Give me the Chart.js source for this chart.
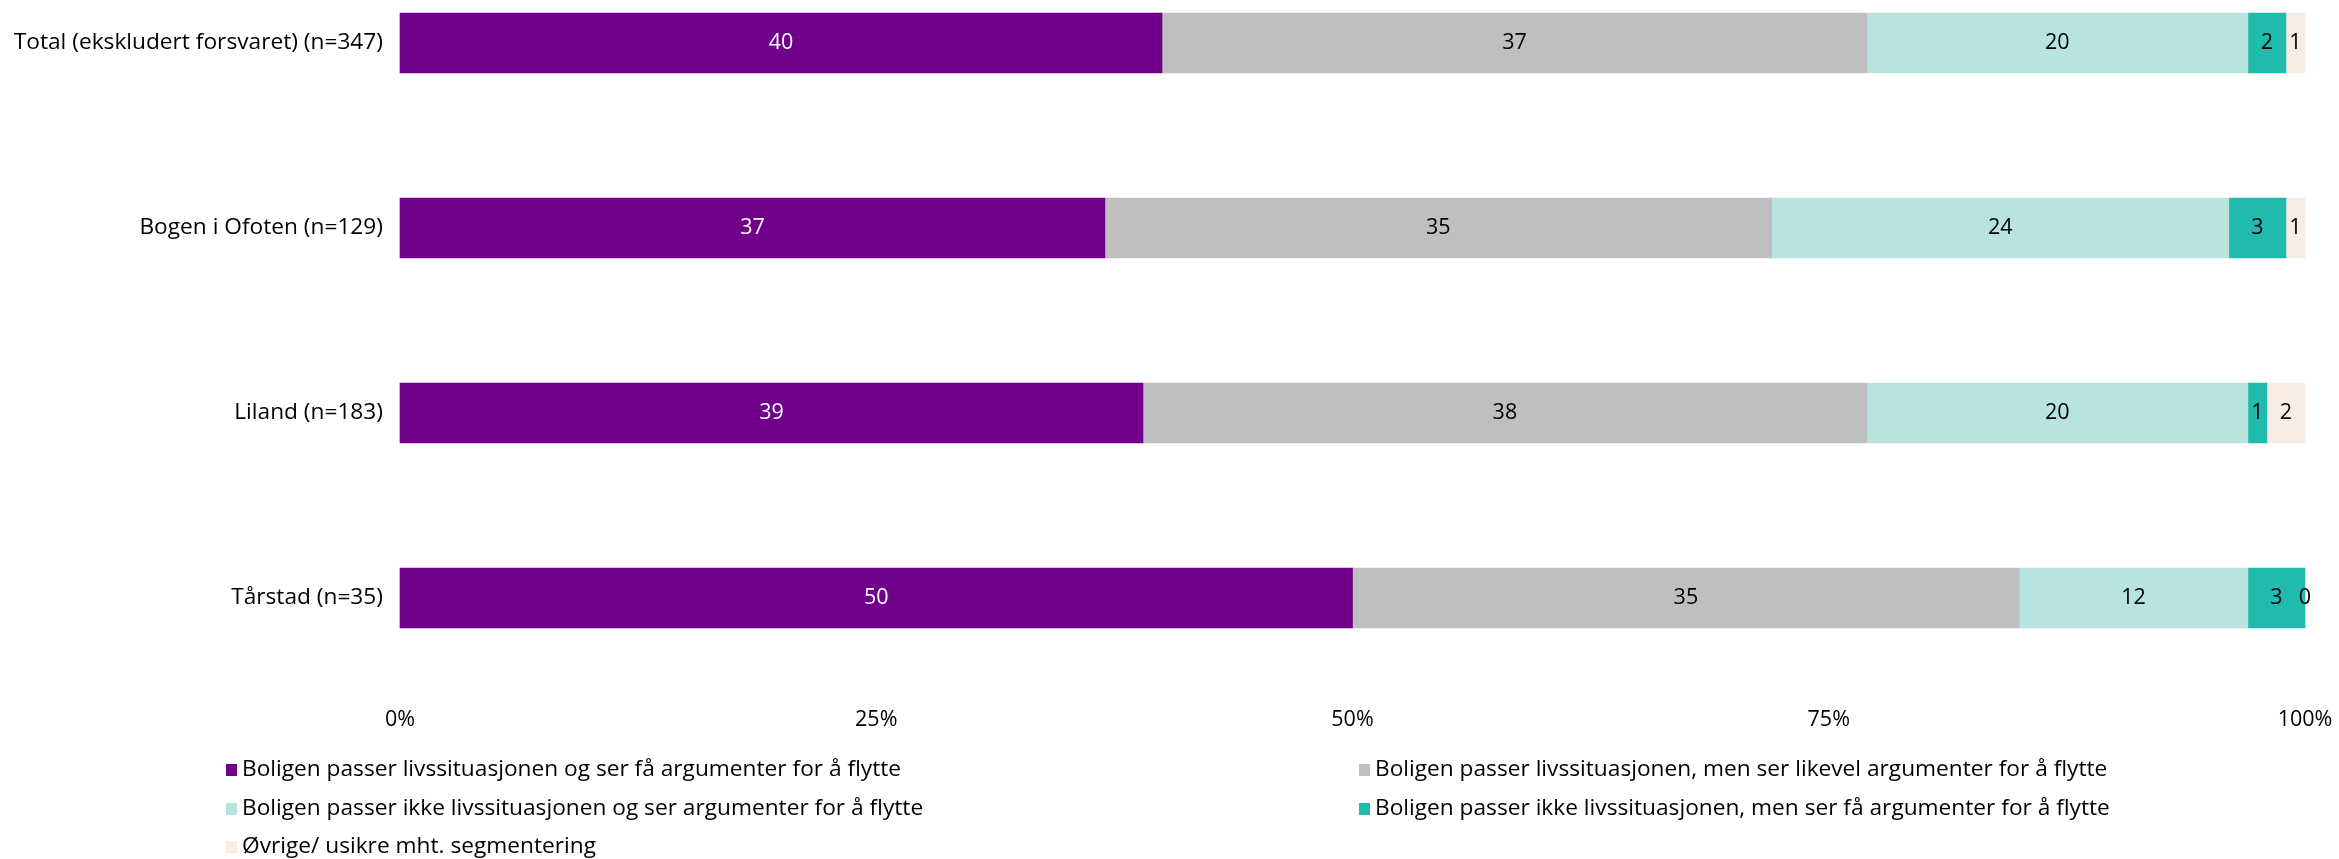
<!DOCTYPE html>
<html>
<head>
<meta charset="utf-8">
<script src="https://cdn.jsdelivr.net/npm/chart.js@4.4.1/dist/chart.umd.min.js"></script>
<style>
  html, body { margin: 0; padding: 0; background: #fff; }
  #wrap { position: relative; width: 2339px; height: 859px; }
  #legend { position: absolute; left: 0; top: 0; width: 2339px; height: 859px; pointer-events: none;
            font-family: "Open Sans", sans-serif; font-size: 22.7px; color: #000; }
  .lg-item { position: absolute; white-space: nowrap; line-height: 26px; }
  .lg-box { display: inline-block; width: 11px; height: 12px; margin-right: 5px; vertical-align: 0px; }
</style>
</head>
<body>
<div id="wrap">
  <canvas id="segChart" width="2339" height="859"></canvas>
  <div id="legend"></div>
</div>
<script>
// categories and series (percent)
const groupLabels = ['Total (ekskludert forsvaret) (n=347)', 'Bogen i Ofoten (n=129)', 'Liland (n=183)', 'Tårstad (n=35)'];
const seriesNames = [
    'Boligen passer livssituasjonen og ser få argumenter for å flytte',
    'Boligen passer livssituasjonen, men ser likevel argumenter for å flytte',
    'Boligen passer ikke livssituasjonen og ser argumenter for å flytte',
    'Boligen passer ikke livssituasjonen, men ser få argumenter for å flytte',
    'Øvrige/ usikre mht. segmentering'
];
const passerFaArg = [40, 37, 39, 50];
const passerLikevel = [37, 35, 38, 35];
const ikkePasserArg = [20, 24, 20, 12];
const ikkePasserFaArg = [2, 3, 1, 3];
const ovrige = [1, 1, 2, 0];
const xTicks = [0, 25, 50, 75, 100];

const seriesValues = [passerFaArg, passerLikevel, ikkePasserArg, ikkePasserFaArg, ovrige];
const seriesColors = ['#70008A', '#BFBFBF', '#B7E4DF', '#21BBAD', '#F9EDE3'];
const labelColors = ['#ffffff', '#000000', '#000000', '#000000', '#000000'];

const FONT = '"Open Sans", sans-serif';

// value labels centered in each segment
const segmentLabels = {
    id: 'segmentLabels',
    afterDatasetsDraw(chart) {
        const ctx = chart.ctx;
        ctx.save();
        ctx.font = '21.5px ' + FONT;
        ctx.textAlign = 'center';
        ctx.textBaseline = 'middle';
        chart.data.datasets.forEach((ds, i) => {
            const meta = chart.getDatasetMeta(i);
            meta.data.forEach((bar, j) => {
                ctx.fillStyle = labelColors[i];
                ctx.fillText(String(ds.data[j]), (bar.x + bar.base) / 2, bar.y);
            });
        });
        ctx.restore();
    }
};

const chart = new Chart(document.getElementById('segChart'), {
    type: 'bar',
    data: {
        labels: groupLabels,
        datasets: seriesValues.map((vals, i) => ({
            label: seriesNames[i],
            data: vals,
            backgroundColor: seriesColors[i],
            borderWidth: 0,
            barThickness: 60,
            clip: false
        }))
    },
    options: {
        indexAxis: 'y',
        responsive: false,
        animation: false,
        layout: { padding: { top: 43, right: 34, bottom: 121, left: 0 } },
        plugins: { legend: { display: false }, tooltip: { enabled: false } },
        scales: {
            x: {
                stacked: true,
                min: 0,
                max: 100,
                afterFit: s => { s.height = 140; s.paddingLeft = 0; s.paddingRight = 0; },
                afterBuildTicks: s => { s.ticks = xTicks.map(v => ({ value: v })); },
                grid: { display: false, drawTicks: false },
                border: { display: false },
                ticks: { padding: 109, maxRotation: 0, color: '#000', font: { family: FONT, size: 21.5 }, callback: v => v + '%' }
            },
            y: {
                stacked: true,
                offset: false,
                afterFit: s => { s.width = 400; },
                grid: { display: false, drawTicks: false },
                border: { display: false },
                ticks: { padding: 17, color: '#000', font: { family: FONT, size: 22.7 } }
            }
        }
    },
    plugins: [segmentLabels]
});

// legend in two columns, built from the dataset names
const legendSpots = [[226, 768], [1359, 768], [226, 807], [1359, 807], [226, 845]];
const legendEl = document.getElementById('legend');
seriesNames.forEach((name, i) => {
    const item = document.createElement('div');
    item.className = 'lg-item';
    item.style.left = legendSpots[i][0] + 'px';
    item.style.top = (legendSpots[i][1] - 13) + 'px';
    item.innerHTML = '<span class="lg-box" style="background:' + seriesColors[i] + '"></span>';
    item.appendChild(document.createTextNode(name));
    legendEl.appendChild(item);
});
</script>
</body>
</html>
